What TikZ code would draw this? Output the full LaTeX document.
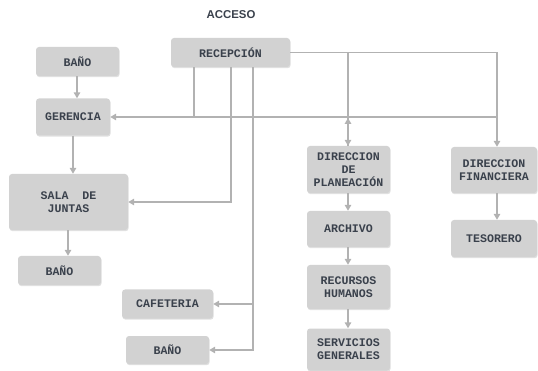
\documentclass[tikz,border=0pt]{standalone}
\usepackage{fontspec}
\setmainfont{Liberation Sans}
\newfontfamily\boxfont{Liberation Mono}
\usetikzlibrary{arrows.meta,shadows}
\definecolor{boxfill}{HTML}{D2D2D2}
\definecolor{boxtext}{HTML}{3A414C}
\definecolor{linec}{HTML}{B2B2B2}
\tikzset{
  room/.style={fill=boxfill, rounded corners=3pt, text=boxtext,
    font=\boxfont\bfseries\fontsize{11.6}{13.2}\selectfont, align=center,
    inner sep=0pt,
    drop shadow={shadow xshift=0.6pt, shadow yshift=-1.2pt, opacity=0.12, fill=black}},
  ln/.style={draw=linec, line width=1.6pt},
  arr/.style={ln, -{Triangle[length=6pt,width=6.5pt]}},
}
\begin{document}
\begin{tikzpicture}[x=1pt,y=-1pt]
\useasboundingbox (0,0) rectangle (538,371);
\node[text=boxtext, font=\bfseries\fontsize{11.4}{13}\selectfont] (acc) at (231,15) {ACCESO};
\node[room, minimum width=119pt, minimum height=29pt] (rec) at (230.5,52.5) {RECEPCIÓN};
\node[room, minimum width=83pt, minimum height=29pt] (b1) at (77.5,61.5) {BAÑO};
\node[room, minimum width=74pt, minimum height=37pt] (ger) at (73,117) {GERENCIA};
\node[room, minimum width=119pt, minimum height=56pt] (sala) at (68.5,202) {SALA\hspace{1.2em}DE\\JUNTAS};
\node[room, minimum width=83pt, minimum height=29pt] (b2) at (59.5,270.5) {BAÑO};
\node[room, minimum width=91pt, minimum height=29pt] (caf) at (167.5,304) {CAFETERIA};
\node[room, minimum width=83pt, minimum height=28pt] (b3) at (167.5,350) {BAÑO};
\node[room, minimum width=83pt, minimum height=47pt] (plan) at (348.5,169.5) {DIRECCION\\DE\\PLANEACIÓN};
\node[room, minimum width=83pt, minimum height=36pt] (arch) at (348.5,229) {ARCHIVO};
\node[room, minimum width=83pt, minimum height=44pt] (rrhh) at (348.5,287) {RECURSOS\\HUMANOS};
\node[room, minimum width=83pt, minimum height=42pt] (serv) at (348.5,349.5) {SERVICIOS\\GENERALES};
\node[room, minimum width=86pt, minimum height=46pt] (fin) at (494,170) {DIRECCION\\FINANCIERA};
\node[room, minimum width=86pt, minimum height=37pt] (tes) at (494,238.5) {TESORERO};
% coordinates
\coordinate (a1) at (194,117);
\coordinate (a2) at (231,202);
\coordinate (a3) at (253,350);
\coordinate (a4) at (253,304);
\coordinate (t) at (497,52.5);
\coordinate (p) at (348,52.5);
\coordinate (h) at (497,117);
\coordinate (q) at (348,117);
% connectors
\draw[arr] (b1.south -| 77,0) -- (ger.north -| 77,0);
\draw[ln] (a1 |- rec.south) -- (a1);
\draw[arr] (h) -- (ger.east);
\draw[arr] (a2 |- rec.south) -- (a2) -- (sala.east |- a2);
\draw[arr] (a3 |- rec.south) -- (a3) -- (b3.east |- a3);
\draw[arr] (a4) -- (caf.east |- a4);
\draw[arr] (rec.east) -- (t) -- (t |- fin.north);
\draw[arr] (p) -- (p |- plan.north);
\draw[arr] (p |- plan.north) -- ([yshift=-1pt]q);
\draw[arr] (ger.south -| 73,0) -- (sala.north -| 73,0);
\draw[arr] (sala.south -| 68,0) -- (b2.north -| 68,0);
\draw[arr] (plan.south -| 348,0) -- (arch.north -| 348,0);
\draw[arr] (arch.south -| 348,0) -- (rrhh.north -| 348,0);
\draw[arr] (rrhh.south -| 348,0) -- (serv.north -| 348,0);
\draw[arr] (t |- fin.south) -- (t |- tes.north);
\end{tikzpicture}
\end{document}
